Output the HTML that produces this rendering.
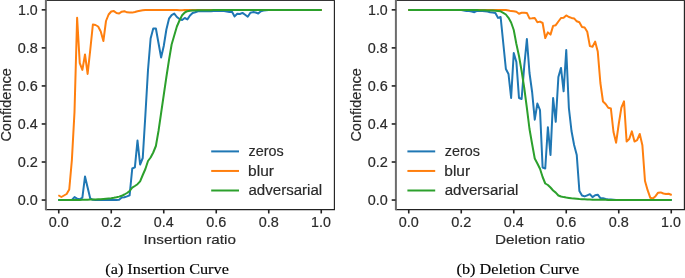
<!DOCTYPE html>
<html><head><meta charset="utf-8"><style>
html,body{margin:0;padding:0;background:#fff;}
svg{display:block;will-change:transform;}
text{opacity:0.995;}
.t{font-family:"Liberation Sans", sans-serif;fill:#2a2a2a;stroke:#2a2a2a;stroke-width:0.18px;}
.c{font-family:"Liberation Serif", serif;fill:#000;stroke:#000;stroke-width:0.15px;}
</style></head><body>
<svg width="685" height="278" viewBox="0 0 685 278">
<rect width="685" height="278" fill="#fff"/>
<clipPath id="clip0"><rect x="45.6" y="0.34" width="288.79999999999995" height="209.22"/></clipPath>
<g clip-path="url(#clip0)">
<polyline points="58.25,200.00 61.38,200.00 64.00,200.00 66.62,200.00 69.25,200.00 71.88,200.00 74.50,197.10 77.12,198.70 79.75,199.30 82.38,197.70 85.00,176.50 87.62,187.50 90.25,198.50 92.88,199.80 95.50,200.00 98.12,200.00 100.75,200.00 103.38,200.00 106.00,200.00 108.62,200.00 111.25,200.00 113.88,200.00 116.50,200.00 119.12,199.80 121.75,197.60 124.38,197.30 127.00,196.40 129.62,195.30 132.25,168.50 134.88,167.30 137.50,140.60 140.12,164.50 142.75,158.00 145.38,115.00 148.00,70.00 150.62,38.50 153.25,28.50 155.88,28.50 158.50,43.00 161.12,57.50 163.75,46.00 166.38,29.50 169.00,18.70 171.62,15.10 174.25,13.60 176.88,17.00 179.50,19.00 182.12,20.00 184.75,18.00 187.38,19.40 190.00,15.50 192.62,13.00 195.25,12.20 197.88,11.20 200.50,11.22 203.12,11.25 205.75,11.28 208.38,11.30 211.00,11.30 213.62,11.00 216.25,11.00 218.88,11.00 221.50,11.00 224.12,11.00 226.75,11.50 229.38,11.90 232.00,11.70 234.62,16.40 237.25,13.80 239.88,14.00 242.50,12.90 245.12,14.80 247.75,16.70 250.38,12.70 253.00,12.10 255.62,12.50 258.25,13.50 260.88,11.30 263.50,10.60 266.12,10.15 268.75,10.10 271.38,10.10 274.00,10.10 276.62,10.10 279.25,10.10 281.88,10.10 284.50,10.10 287.12,10.10 289.75,10.10 292.38,10.10 295.00,10.10 297.62,10.10 300.25,10.10 302.88,10.10 305.50,10.10 308.12,10.10 310.75,10.10 313.38,10.10 316.00,10.10 318.62,10.10 321.75,10.10" fill="none" stroke="#1f77b4" stroke-width="2" stroke-linejoin="round" stroke-linecap="butt"/>
<polyline points="58.32,195.25 61.38,197.00 64.00,195.50 66.62,194.00 69.25,189.50 71.88,160.00 74.50,112.00 77.12,17.70 79.75,63.10 82.38,69.90 85.00,54.50 87.62,73.90 90.25,50.00 92.88,24.50 95.50,25.00 98.12,26.50 100.75,31.50 103.38,41.00 106.00,21.00 108.62,14.50 111.25,11.50 113.88,11.10 116.50,13.00 119.12,13.50 121.75,11.70 124.38,11.20 127.00,12.30 129.62,12.50 132.25,12.60 134.88,12.00 137.50,11.30 140.12,10.80 142.75,10.30 145.38,9.90 148.00,9.90 150.62,9.90 153.25,9.90 155.88,9.90 158.50,9.90 161.12,9.90 163.75,9.90 166.38,9.90 169.00,9.90 171.62,9.90 174.25,9.90 176.88,9.90 179.50,10.20 182.12,10.30 184.75,10.10 187.38,10.10 190.00,10.10 192.62,10.10 195.25,10.10 197.88,10.10 200.50,10.10 203.12,10.10 205.75,10.10 208.38,10.10 211.00,10.10 213.62,10.10 216.25,10.10 218.88,10.10 221.50,10.10 224.12,10.10 226.75,10.10 229.38,10.10 232.00,10.10 234.62,10.10 237.25,10.10 239.88,10.10 242.50,10.10 245.12,10.10 247.75,10.10 250.38,10.10 253.00,10.10 255.62,10.10 258.25,10.10 260.88,10.10 263.50,10.10 266.12,10.10 268.75,10.10 271.38,10.10 274.00,10.10 276.62,10.10 279.25,10.10 281.88,10.10 284.50,10.10 287.12,10.10 289.75,10.10 292.38,10.10 295.00,10.10 297.62,10.10 300.25,10.10 302.88,10.10 305.50,10.10 308.12,10.10 310.75,10.10 313.38,10.10 316.00,10.10 318.62,10.10 321.75,10.10" fill="none" stroke="#ff7f0e" stroke-width="2" stroke-linejoin="round" stroke-linecap="butt"/>
<polyline points="58.25,200.00 61.38,200.00 64.00,200.00 66.62,200.00 69.25,200.00 71.88,200.00 74.50,199.96 77.12,199.92 79.75,199.88 82.38,199.84 85.00,199.80 87.62,199.70 90.25,199.60 92.88,199.50 95.50,199.40 98.12,199.30 100.75,199.20 103.38,198.95 106.00,198.70 108.62,198.45 111.25,198.20 113.88,197.80 116.50,197.30 119.12,196.60 121.75,195.80 124.38,194.50 127.00,193.00 129.62,191.00 132.25,187.70 134.88,186.00 137.50,184.20 140.12,181.30 142.75,175.00 145.38,169.00 148.00,161.00 150.62,157.50 153.25,152.50 155.88,146.00 158.50,131.00 161.12,113.00 163.75,95.00 166.38,77.00 169.00,60.00 171.62,44.50 174.25,35.50 176.88,26.50 179.50,20.50 182.12,15.20 184.75,12.50 187.38,11.20 190.00,10.70 192.62,10.55 195.25,10.40 197.88,10.33 200.50,10.27 203.12,10.20 205.75,10.18 208.38,10.16 211.00,10.14 213.62,10.12 216.25,10.10 218.88,10.10 221.50,10.10 224.12,10.10 226.75,10.10 229.38,10.10 232.00,10.10 234.62,10.10 237.25,10.10 239.88,10.10 242.50,10.10 245.12,10.10 247.75,10.10 250.38,10.10 253.00,10.10 255.62,10.10 258.25,10.10 260.88,10.10 263.50,10.10 266.12,10.10 268.75,10.10 271.38,10.10 274.00,10.10 276.62,10.10 279.25,10.10 281.88,10.10 284.50,10.10 287.12,10.10 289.75,10.10 292.38,10.10 295.00,10.10 297.62,10.10 300.25,10.10 302.88,10.10 305.50,10.10 308.12,10.10 310.75,10.10 313.38,10.10 316.00,10.10 318.62,10.10 321.75,10.10" fill="none" stroke="#2ca02c" stroke-width="2" stroke-linejoin="round" stroke-linecap="butt"/>
</g>
<line x1="211.2" y1="151.40" x2="239.0" y2="151.40" stroke="#1f77b4" stroke-width="2"/>
<text x="248.52" y="156.25" class="t" font-size="14.0" textLength="35.10" lengthAdjust="spacingAndGlyphs">zeros</text>
<line x1="211.2" y1="170.95" x2="239.0" y2="170.95" stroke="#ff7f0e" stroke-width="2"/>
<text x="248.10" y="175.80" class="t" font-size="14.0" textLength="25.86" lengthAdjust="spacingAndGlyphs">blur</text>
<line x1="211.2" y1="190.50" x2="239.0" y2="190.50" stroke="#2ca02c" stroke-width="2"/>
<text x="248.46" y="195.35" class="t" font-size="14.0" textLength="73.75" lengthAdjust="spacingAndGlyphs">adversarial</text>
<path d="M334.4 0.34 V209.56 H45.6" fill="none" stroke="#222" stroke-width="1.15"/>
<line x1="45.6" y1="0.5" x2="334.97499999999997" y2="0.5" stroke="#353535" stroke-width="1"/>
<line x1="45.9" y1="-0.25999999999999995" x2="45.9" y2="210.16" stroke="#6c6c6c" stroke-width="2"/>
<line x1="58.75" y1="209.56" x2="58.75" y2="213.46" stroke="#222" stroke-width="1.6"/>
<line x1="41.7" y1="200.05" x2="45.6" y2="200.05" stroke="#222" stroke-width="1.6"/>
<text x="48.74" y="227.30" class="t" font-size="14" textLength="20.03" lengthAdjust="spacingAndGlyphs">0.0</text>
<text x="17.74" y="205.05" class="t" font-size="14" textLength="20.03" lengthAdjust="spacingAndGlyphs">0.0</text>
<line x1="111.25" y1="209.56" x2="111.25" y2="213.46" stroke="#222" stroke-width="1.6"/>
<line x1="41.7" y1="162.01000000000002" x2="45.6" y2="162.01000000000002" stroke="#222" stroke-width="1.6"/>
<text x="101.23" y="227.30" class="t" font-size="14" textLength="20.20" lengthAdjust="spacingAndGlyphs">0.2</text>
<text x="17.73" y="167.01" class="t" font-size="14" textLength="20.20" lengthAdjust="spacingAndGlyphs">0.2</text>
<line x1="163.75" y1="209.56" x2="163.75" y2="213.46" stroke="#222" stroke-width="1.6"/>
<line x1="41.7" y1="123.97000000000001" x2="45.6" y2="123.97000000000001" stroke="#222" stroke-width="1.6"/>
<text x="153.74" y="227.30" class="t" font-size="14" textLength="19.88" lengthAdjust="spacingAndGlyphs">0.4</text>
<text x="17.74" y="128.97" class="t" font-size="14" textLength="19.88" lengthAdjust="spacingAndGlyphs">0.4</text>
<line x1="216.25000000000003" y1="209.56" x2="216.25000000000003" y2="213.46" stroke="#222" stroke-width="1.6"/>
<line x1="41.7" y1="85.93" x2="45.6" y2="85.93" stroke="#222" stroke-width="1.6"/>
<text x="206.24" y="227.30" class="t" font-size="14" textLength="20.10" lengthAdjust="spacingAndGlyphs">0.6</text>
<text x="17.74" y="90.93" class="t" font-size="14" textLength="20.10" lengthAdjust="spacingAndGlyphs">0.6</text>
<line x1="268.75" y1="209.56" x2="268.75" y2="213.46" stroke="#222" stroke-width="1.6"/>
<line x1="41.7" y1="47.890000000000015" x2="45.6" y2="47.890000000000015" stroke="#222" stroke-width="1.6"/>
<text x="258.74" y="227.30" class="t" font-size="14" textLength="20.09" lengthAdjust="spacingAndGlyphs">0.8</text>
<text x="17.74" y="52.89" class="t" font-size="14" textLength="20.09" lengthAdjust="spacingAndGlyphs">0.8</text>
<line x1="321.25" y1="209.56" x2="321.25" y2="213.46" stroke="#222" stroke-width="1.6"/>
<line x1="41.7" y1="9.850000000000023" x2="45.6" y2="9.850000000000023" stroke="#222" stroke-width="1.6"/>
<text x="311.12" y="227.30" class="t" font-size="14" textLength="19.74" lengthAdjust="spacingAndGlyphs">1.0</text>
<text x="18.02" y="14.85" class="t" font-size="14" textLength="19.74" lengthAdjust="spacingAndGlyphs">1.0</text>
<text x="143.59" y="244.40" class="t" font-size="13.5" textLength="92.35" lengthAdjust="spacingAndGlyphs">Insertion ratio</text>
<text transform="rotate(-90)" x="-141.64" y="10.50" class="t" font-size="14.0" textLength="73.48" lengthAdjust="spacingAndGlyphs">Confidence</text>
<text x="105.29" y="274.30" class="c" font-size="15" textLength="123.58" lengthAdjust="spacingAndGlyphs">(a) Insertion Curve</text>
<clipPath id="clip350"><rect x="395.6" y="0.34" width="288.79999999999995" height="209.22"/></clipPath>
<g clip-path="url(#clip350)">
<polyline points="408.25,10.10 411.38,10.10 414.00,10.10 416.62,10.10 419.25,10.10 421.88,10.10 424.50,10.10 427.12,10.10 429.75,10.10 432.38,10.10 435.00,10.10 437.62,10.10 440.25,10.10 442.88,10.10 445.50,10.10 448.12,10.10 450.75,10.10 453.38,10.10 456.00,10.10 458.62,10.10 461.25,10.10 463.88,10.50 466.50,11.00 469.12,11.10 471.75,11.50 474.38,12.20 477.00,10.80 479.62,11.00 482.25,11.00 484.88,11.20 487.50,11.50 490.12,12.20 492.75,12.50 495.38,13.00 498.00,17.90 500.62,17.00 503.25,43.00 505.88,69.00 508.50,74.00 511.12,97.90 513.75,53.00 516.38,62.00 519.00,98.00 521.62,99.00 524.25,66.00 526.88,39.00 529.50,73.00 532.12,92.00 534.75,119.70 537.38,103.50 540.00,110.00 542.62,167.50 545.25,168.50 547.88,127.20 550.50,155.00 553.12,98.00 555.75,121.80 558.38,77.00 561.00,67.90 563.62,91.30 566.25,50.00 568.88,108.00 571.50,131.00 574.12,145.00 576.75,155.00 579.38,191.00 582.00,195.50 584.62,196.40 587.25,195.30 589.88,194.20 592.50,197.10 595.12,195.30 597.75,194.70 600.38,198.20 603.00,198.20 605.62,199.00 608.25,199.50 610.88,199.62 613.50,199.75 616.12,199.88 618.75,200.00 621.38,200.00 624.00,200.00 626.62,200.00 629.25,200.00 631.88,200.00 634.50,200.00 637.12,200.00 639.75,200.00 642.38,200.00 645.00,200.00 647.62,200.00 650.25,200.00 652.88,200.00 655.50,200.00 658.12,200.00 660.75,200.00 663.38,200.00 666.00,200.00 668.62,200.00 671.75,200.00" fill="none" stroke="#1f77b4" stroke-width="2" stroke-linejoin="round" stroke-linecap="butt"/>
<polyline points="408.25,10.10 411.38,10.10 414.00,10.10 416.62,10.10 419.25,10.10 421.88,10.10 424.50,10.10 427.12,10.10 429.75,10.10 432.38,10.10 435.00,10.10 437.62,10.10 440.25,10.10 442.88,10.10 445.50,10.10 448.12,10.10 450.75,10.10 453.38,10.10 456.00,10.10 458.62,10.10 461.25,10.10 463.88,10.10 466.50,10.10 469.12,10.10 471.75,10.10 474.38,10.10 477.00,10.10 479.62,10.07 482.25,10.03 484.88,10.00 487.50,9.98 490.12,9.97 492.75,9.95 495.38,9.93 498.00,9.92 500.62,9.90 503.25,9.95 505.88,10.00 508.50,10.50 511.12,11.10 513.75,11.30 516.38,11.80 519.00,13.70 521.62,12.70 524.25,12.70 526.88,12.90 529.50,18.40 532.12,18.30 534.75,18.00 537.38,22.20 540.00,21.60 542.62,23.00 545.25,38.00 547.88,32.40 550.50,34.60 553.12,25.90 555.75,25.20 558.38,21.50 561.00,18.00 563.62,17.70 566.25,15.40 568.88,17.00 571.50,17.90 574.12,18.40 576.75,21.30 579.38,22.30 582.00,27.00 584.62,27.50 587.25,31.70 589.88,46.10 592.50,46.70 595.12,41.60 597.75,51.50 600.38,83.00 603.00,101.50 605.62,104.00 608.25,107.80 610.88,108.50 613.50,132.00 616.12,142.70 618.75,124.00 621.38,107.60 624.00,101.30 626.62,141.50 629.25,139.00 631.88,131.40 634.50,141.50 637.12,140.20 639.75,134.00 642.38,145.30 645.00,181.00 647.62,190.20 650.25,197.70 652.88,198.50 655.50,196.20 658.12,192.70 660.75,192.40 663.38,193.50 666.00,194.00 668.62,193.80 671.72,194.98" fill="none" stroke="#ff7f0e" stroke-width="2" stroke-linejoin="round" stroke-linecap="butt"/>
<polyline points="408.25,10.10 411.38,10.10 414.00,10.10 416.62,10.10 419.25,10.10 421.88,10.10 424.50,10.10 427.12,10.10 429.75,10.10 432.38,10.10 435.00,10.10 437.62,10.10 440.25,10.10 442.88,10.10 445.50,10.10 448.12,10.10 450.75,10.10 453.38,10.10 456.00,10.10 458.62,10.10 461.25,10.10 463.88,10.10 466.50,10.10 469.12,10.10 471.75,10.10 474.38,10.10 477.00,10.10 479.62,10.17 482.25,10.23 484.88,10.30 487.50,10.38 490.12,10.45 492.75,10.55 495.38,10.65 498.00,10.90 500.62,11.30 503.25,12.80 505.88,14.50 508.50,17.80 511.12,22.50 513.75,30.00 516.38,44.00 519.00,56.00 521.62,71.00 524.25,88.00 526.88,108.00 529.50,129.00 532.12,144.00 534.75,158.50 537.38,163.50 540.00,168.80 542.62,177.00 545.25,183.50 547.88,185.00 550.50,187.50 553.12,190.50 555.75,192.60 558.38,195.50 561.00,196.50 563.62,197.10 566.25,197.60 568.88,197.95 571.50,198.30 574.12,198.57 576.75,198.83 579.38,199.10 582.00,199.22 584.62,199.34 587.25,199.46 589.88,199.58 592.50,199.70 595.12,199.73 597.75,199.76 600.38,199.79 603.00,199.82 605.62,199.85 608.25,199.88 610.88,199.91 613.50,199.94 616.12,199.97 618.75,200.00 621.38,200.00 624.00,200.00 626.62,200.00 629.25,200.00 631.88,200.00 634.50,200.00 637.12,200.00 639.75,200.00 642.38,200.00 645.00,200.00 647.62,200.00 650.25,200.00 652.88,200.00 655.50,200.00 658.12,200.00 660.75,200.00 663.38,200.00 666.00,200.00 668.62,200.00 671.75,200.00" fill="none" stroke="#2ca02c" stroke-width="2" stroke-linejoin="round" stroke-linecap="butt"/>
</g>
<line x1="407.4" y1="151.40" x2="435.2" y2="151.40" stroke="#1f77b4" stroke-width="2"/>
<text x="444.72" y="156.25" class="t" font-size="14.0" textLength="35.10" lengthAdjust="spacingAndGlyphs">zeros</text>
<line x1="407.4" y1="170.95" x2="435.2" y2="170.95" stroke="#ff7f0e" stroke-width="2"/>
<text x="444.30" y="175.80" class="t" font-size="14.0" textLength="25.86" lengthAdjust="spacingAndGlyphs">blur</text>
<line x1="407.4" y1="190.50" x2="435.2" y2="190.50" stroke="#2ca02c" stroke-width="2"/>
<text x="444.66" y="195.35" class="t" font-size="14.0" textLength="73.75" lengthAdjust="spacingAndGlyphs">adversarial</text>
<path d="M684.4 0.34 V209.56 H395.6" fill="none" stroke="#222" stroke-width="1.15"/>
<line x1="395.6" y1="0.5" x2="684.975" y2="0.5" stroke="#353535" stroke-width="1"/>
<line x1="395.90000000000003" y1="-0.25999999999999995" x2="395.90000000000003" y2="210.16" stroke="#6c6c6c" stroke-width="2"/>
<line x1="408.75" y1="209.56" x2="408.75" y2="213.46" stroke="#222" stroke-width="1.6"/>
<line x1="391.70000000000005" y1="200.05" x2="395.6" y2="200.05" stroke="#222" stroke-width="1.6"/>
<text x="398.74" y="227.30" class="t" font-size="14" textLength="20.03" lengthAdjust="spacingAndGlyphs">0.0</text>
<text x="367.74" y="205.05" class="t" font-size="14" textLength="20.03" lengthAdjust="spacingAndGlyphs">0.0</text>
<line x1="461.25" y1="209.56" x2="461.25" y2="213.46" stroke="#222" stroke-width="1.6"/>
<line x1="391.70000000000005" y1="162.01000000000002" x2="395.6" y2="162.01000000000002" stroke="#222" stroke-width="1.6"/>
<text x="451.23" y="227.30" class="t" font-size="14" textLength="20.20" lengthAdjust="spacingAndGlyphs">0.2</text>
<text x="367.73" y="167.01" class="t" font-size="14" textLength="20.20" lengthAdjust="spacingAndGlyphs">0.2</text>
<line x1="513.75" y1="209.56" x2="513.75" y2="213.46" stroke="#222" stroke-width="1.6"/>
<line x1="391.70000000000005" y1="123.97000000000001" x2="395.6" y2="123.97000000000001" stroke="#222" stroke-width="1.6"/>
<text x="503.74" y="227.30" class="t" font-size="14" textLength="19.88" lengthAdjust="spacingAndGlyphs">0.4</text>
<text x="367.74" y="128.97" class="t" font-size="14" textLength="19.88" lengthAdjust="spacingAndGlyphs">0.4</text>
<line x1="566.25" y1="209.56" x2="566.25" y2="213.46" stroke="#222" stroke-width="1.6"/>
<line x1="391.70000000000005" y1="85.93" x2="395.6" y2="85.93" stroke="#222" stroke-width="1.6"/>
<text x="556.24" y="227.30" class="t" font-size="14" textLength="20.10" lengthAdjust="spacingAndGlyphs">0.6</text>
<text x="367.74" y="90.93" class="t" font-size="14" textLength="20.10" lengthAdjust="spacingAndGlyphs">0.6</text>
<line x1="618.75" y1="209.56" x2="618.75" y2="213.46" stroke="#222" stroke-width="1.6"/>
<line x1="391.70000000000005" y1="47.890000000000015" x2="395.6" y2="47.890000000000015" stroke="#222" stroke-width="1.6"/>
<text x="608.74" y="227.30" class="t" font-size="14" textLength="20.09" lengthAdjust="spacingAndGlyphs">0.8</text>
<text x="367.74" y="52.89" class="t" font-size="14" textLength="20.09" lengthAdjust="spacingAndGlyphs">0.8</text>
<line x1="671.25" y1="209.56" x2="671.25" y2="213.46" stroke="#222" stroke-width="1.6"/>
<line x1="391.70000000000005" y1="9.850000000000023" x2="395.6" y2="9.850000000000023" stroke="#222" stroke-width="1.6"/>
<text x="661.12" y="227.30" class="t" font-size="14" textLength="19.74" lengthAdjust="spacingAndGlyphs">1.0</text>
<text x="368.02" y="14.85" class="t" font-size="14" textLength="19.74" lengthAdjust="spacingAndGlyphs">1.0</text>
<text x="495.05" y="244.40" class="t" font-size="13.5" textLength="89.99" lengthAdjust="spacingAndGlyphs">Deletion ratio</text>
<text transform="rotate(-90)" x="-141.64" y="360.50" class="t" font-size="14.0" textLength="73.48" lengthAdjust="spacingAndGlyphs">Confidence</text>
<text x="456.59" y="274.30" class="c" font-size="15" textLength="122.68" lengthAdjust="spacingAndGlyphs">(b) Deletion Curve</text>
</svg>
</body></html>
